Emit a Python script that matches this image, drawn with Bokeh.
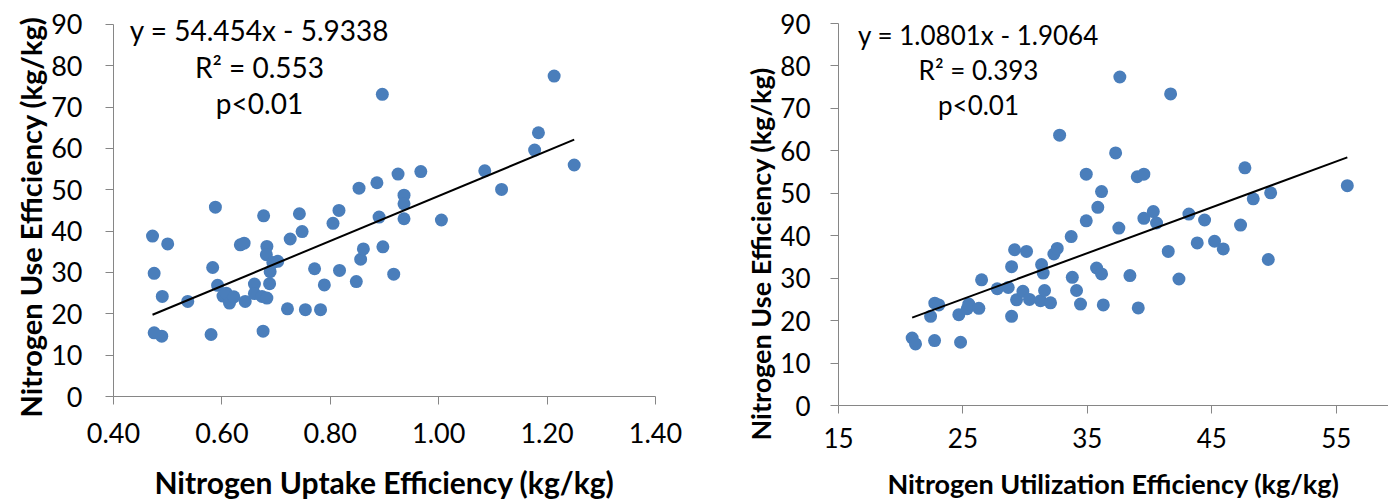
from bokeh.plotting import figure
from bokeh.models import Range1d, FixedTicker, Label, NumeralTickFormatter, Title
from bokeh.embed import file_html
from bokeh.resources import INLINE

# ---- data: left panel (NUpE vs NUE) ----
nupe = [0.472, 0.500, 0.588, 0.475, 0.490, 0.537, 0.475, 0.489, 0.580, 0.583,
        0.592, 0.602, 0.608, 0.614, 0.622, 0.634, 0.641, 0.643, 0.660, 0.660,
        0.677, 0.676, 0.683, 0.682, 0.674, 0.683, 0.688, 0.689, 0.703, 0.694,
        0.726, 0.721, 0.743, 0.748, 0.754, 0.771, 0.782, 0.789, 0.805, 0.816,
        0.817, 0.848, 0.853, 0.856, 0.861, 0.886, 0.890, 0.897, 0.917, 0.925,
        0.936, 0.936, 0.936, 0.967, 0.896, 1.213, 1.184, 1.177, 1.250, 1.085,
        1.116, 1.005]
nue_left = [38.8, 36.9, 45.8, 29.8, 24.2, 23.0, 15.4, 14.6, 15.0, 31.2,
            26.9, 24.3, 25.0, 22.6, 24.1, 36.7, 37.1, 23.0, 27.2, 24.9,
            43.7, 15.8, 36.3, 34.3, 24.2, 23.8, 27.3, 30.2, 32.7, 32.4,
            38.1, 21.2, 44.2, 39.9, 21.0, 30.9, 21.0, 27.0, 41.9, 45.0,
            30.5, 27.8, 50.4, 33.2, 35.7, 51.7, 43.4, 36.2, 29.6, 53.8,
            48.7, 46.6, 43.0, 54.4, 73.1, 77.5, 63.8, 59.6, 56.0, 54.6,
            50.1, 42.7]

# ---- data: right panel (NUtE vs NUE) ----
nute = [20.92, 21.19, 22.72, 24.81, 22.40, 22.74, 23.06, 24.67, 25.34, 25.47,
        26.28, 26.50, 27.76, 28.64, 28.91, 28.91, 29.15, 30.11, 29.31, 29.82,
        30.35, 31.24, 31.56, 32.04, 31.32, 31.45, 32.31, 32.58, 33.70, 33.79,
        34.13, 34.45, 34.91, 32.77, 34.91, 35.84, 36.14, 35.74, 36.14, 36.28,
        37.27, 37.53, 38.42, 39.09, 39.01, 39.54, 39.54, 37.61, 41.69, 40.30,
        40.56, 41.50, 42.36, 43.16, 44.42, 43.83, 45.22, 45.92, 47.31, 47.66,
        48.33, 49.73, 49.54, 55.89]
nue_right = [15.9, 14.5, 15.3, 14.9, 21.0, 24.1, 23.7, 21.4, 22.8, 23.9,
             22.9, 29.6, 27.5, 27.8, 21.0, 32.7, 36.7, 36.3, 24.9, 26.9,
             25.0, 24.7, 27.1, 24.2, 33.2, 31.2, 35.7, 37.0, 39.8, 30.2,
             27.1, 23.9, 43.5, 63.7, 54.5, 46.7, 50.4, 32.4, 31.0, 23.7,
             59.5, 41.8, 30.6, 23.0, 53.9, 54.5, 44.1, 77.4, 73.4, 45.7,
             43.0, 36.3, 29.8, 45.1, 43.7, 38.3, 38.7, 36.9, 42.5, 56.0,
             48.7, 50.1, 34.4, 51.8]

# regression coefficients (as printed on the chart)
left_fit = [54.454, -5.9338]
right_fit = [1.0801, -1.9064]
left_text = ["y = 54.454x - 5.9338", "R\u00b2 = 0.553", "p<0.01"]
right_text = ["y = 1.0801x - 1.9064", "R\u00b2 = 0.393", "p<0.01"]

left_xticks = [0.4, 0.6, 0.8, 1.0, 1.2, 1.4]
right_xticks = [15, 25, 35, 45, 55]
yticks = [0, 10, 20, 30, 40, 50, 60, 70, 80, 90]
ylabel = "Nitrogen Use Efficiency (kg/kg)"

DOT = "#4A7EBB"
AX = "#868686"
FONT = "Lato"


def panel(xs, ys, fit, texts, xr, ytop, xticks, fmt, xlabel, borders, sizes,
          text_pos, stand, ytitle_offset):
    bl, br, bt, bb = borders
    tick_size, xtitle_size, ytitle_size, eq_size = sizes
    xstand, ystand, xlab_stand, ytitle_stand = stand
    p = figure(width=694, height=502, output_backend="svg", toolbar_location=None,
               x_range=Range1d(*xr), y_range=Range1d(0, ytop),
               min_border_left=bl, min_border_right=br,
               min_border_top=bt, min_border_bottom=bb)
    p.scatter(xs, ys, size=13, fill_color=DOT, line_color=None)
    x0, x1 = min(xs), max(xs)
    p.line([x0, x1], [fit[0] * x0 + fit[1], fit[0] * x1 + fit[1]],
           line_color="black", line_width=2)
    p.xaxis.ticker = FixedTicker(ticks=xticks)
    p.yaxis.ticker = FixedTicker(ticks=yticks)
    p.yaxis.bounds = (yticks[0], yticks[-1])
    if fmt:
        p.xaxis.formatter = NumeralTickFormatter(format=fmt)
    for ax in (p.xaxis[0], p.yaxis[0]):
        ax.axis_line_color = AX
        ax.axis_line_width = 1
        ax.major_tick_line_color = AX
        ax.major_tick_out = 8
        ax.major_tick_in = 0
        ax.minor_tick_line_color = None
        ax.major_label_text_font = FONT
        ax.major_label_text_font_size = tick_size
        ax.major_label_text_color = "#000000"
    xa = p.xaxis[0]
    xa.axis_label = xlabel
    xa.axis_label_text_font = FONT
    xa.axis_label_text_font_style = "bold"
    xa.axis_label_text_font_size = xtitle_size
    xa.axis_label_text_color = "#000000"
    xa.major_label_standoff = xstand
    xa.axis_label_standoff = xlab_stand
    p.yaxis[0].major_label_standoff = ystand
    p.add_layout(Title(text=ylabel, align="left", vertical_align="bottom",
                       offset=ytitle_offset, standoff=ytitle_stand,
                       text_font=FONT, text_font_style="bold",
                       text_font_size=ytitle_size, text_color="#000000"), "left")
    p.xgrid.visible = False
    p.ygrid.visible = False
    p.outline_line_color = None
    tx, tys = text_pos
    for t, ty in zip(texts, tys):
        p.add_layout(Label(x=tx, y=ty, x_units="screen", y_units="screen",
                           text=t, text_align="center",
                           text_baseline="middle", text_font=FONT,
                           text_font_size=eq_size, text_color="#000000"))
    return p


# left frame: x 113..655, y 0..397 (value 90 sits at 24 px)
p1 = panel(nupe, nue_left, left_fit, left_text, (0.4, 1.4), 90 * 397 / 373,
           left_xticks, "0.00", "Nitrogen Uptake Efficiency (kg/kg)",
           (113, 39, 0, 105), ("27px", "30px", "29px", "28px"),
           (146, [367, 330, 294]), (18, 23, 18, 2), -21)
# right frame: x 838..1388, y 0..405 (value 90 sits at 23 px)
p2 = panel(nute, nue_right, right_fit, right_text, (15, 59.2), 90 * 405 / 382,
           right_xticks, None, "Nitrogen Utilization Efficiency (kg/kg)",
           (144, 0, 0, 97), ("26px", "27px", "27px", "26px"),
           (140, [371, 336, 301]), (14, 20, 16, 2), -35)

TEMPLATE = """{% block postamble %}<style>
body { display: flex !important; flex-direction: row; align-items: flex-start; }
body > * { flex: none; }
</style>{% endblock %}"""

open("out.html", "w").write(file_html([p1, p2], INLINE, template=TEMPLATE))
